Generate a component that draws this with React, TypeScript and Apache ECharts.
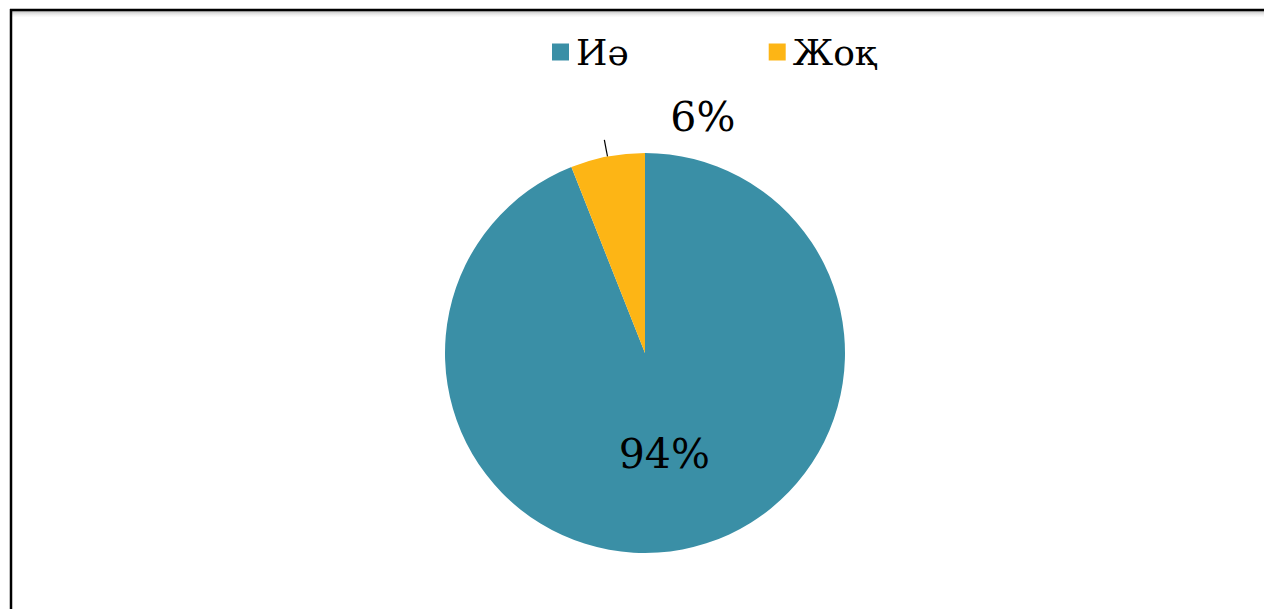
import React, { useEffect, useRef } from "react";
import * as echarts from "echarts";

const categories: string[] = ["Иә", "Жоқ"];
const values: number[] = [94, 6];
const colors: string[] = ["#3A8FA6", "#FDB515"];

export default function App() {
  const ref = useRef<HTMLDivElement>(null);
  useEffect(() => {
    if (!ref.current) return;
    const chart = echarts.init(ref.current, null, { renderer: "svg" });
    const font = "DejaVu Serif";
    chart.setOption({
      animation: false,
      backgroundColor: "#ffffff",
      graphic: [
        {
          type: "rect",
          shape: { x: 12, y: 11, width: 1252, height: 6 },
          style: {
            fill: new echarts.graphic.LinearGradient(0, 0, 0, 1, [
              { offset: 0, color: "rgba(150,150,150,0.6)" },
              { offset: 1, color: "rgba(240,240,240,0.2)" },
            ]),
          },
          silent: true,
        },
        {
          type: "line",
          shape: { x1: 10, y1: 10, x2: 1264, y2: 10 },
          style: { stroke: "#000", lineWidth: 2.5 },
          silent: true,
        },
        {
          type: "line",
          shape: { x1: 11, y1: 9, x2: 11, y2: 609 },
          style: { stroke: "#000", lineWidth: 2.5 },
          silent: true,
        },
      ],
      legend: {
        left: 547,
        top: 29,
        itemWidth: 17,
        itemHeight: 17,
        itemGap: 140,
        icon: "rect",
        textStyle: { fontFamily: font, fontSize: 36, color: "#000", padding: [0, 0, 0, 2] },
        data: categories,
      },
      series: [
        {
          type: "pie",
          center: [645, 353],
          radius: 200,
          startAngle: 90,
          clockwise: true,
          avoidLabelOverlap: false,
          data: categories.map((c, i) => ({
            name: c,
            value: values[i],
            itemStyle: { color: colors[i] },
            label:
              i === 0
                ? { position: "inside" }
                : { position: "outside" },
            labelLine:
              i === 0
                ? { show: false }
                : { show: true, length: 17, length2: 0, lineStyle: { color: "#000", width: 1.2 } },
          })),
          label: {
            formatter: (p: any) => Math.round(p.percent) + "%",
            fontFamily: font,
            fontSize: 41,
            color: "#000",
          },
          labelLayout: (params: any) => {
            if (params.dataIndex !== 1 || !params.labelLinePoints) return {};
            const pts = params.labelLinePoints;
            const end = pts[pts.length - 1];
            return {
              x: end[0] + 66,
              y: end[1] - 23,
              align: "left",
              verticalAlign: "middle",
              labelLinePoints: pts,
            };
          },
        },
      ],
    });
    return () => chart.dispose();
  }, []);
  return (
    <div
      ref={ref}
      style={{ position: "fixed", left: 0, top: 0, width: 1264, height: 609 }}
    />
  );
}
